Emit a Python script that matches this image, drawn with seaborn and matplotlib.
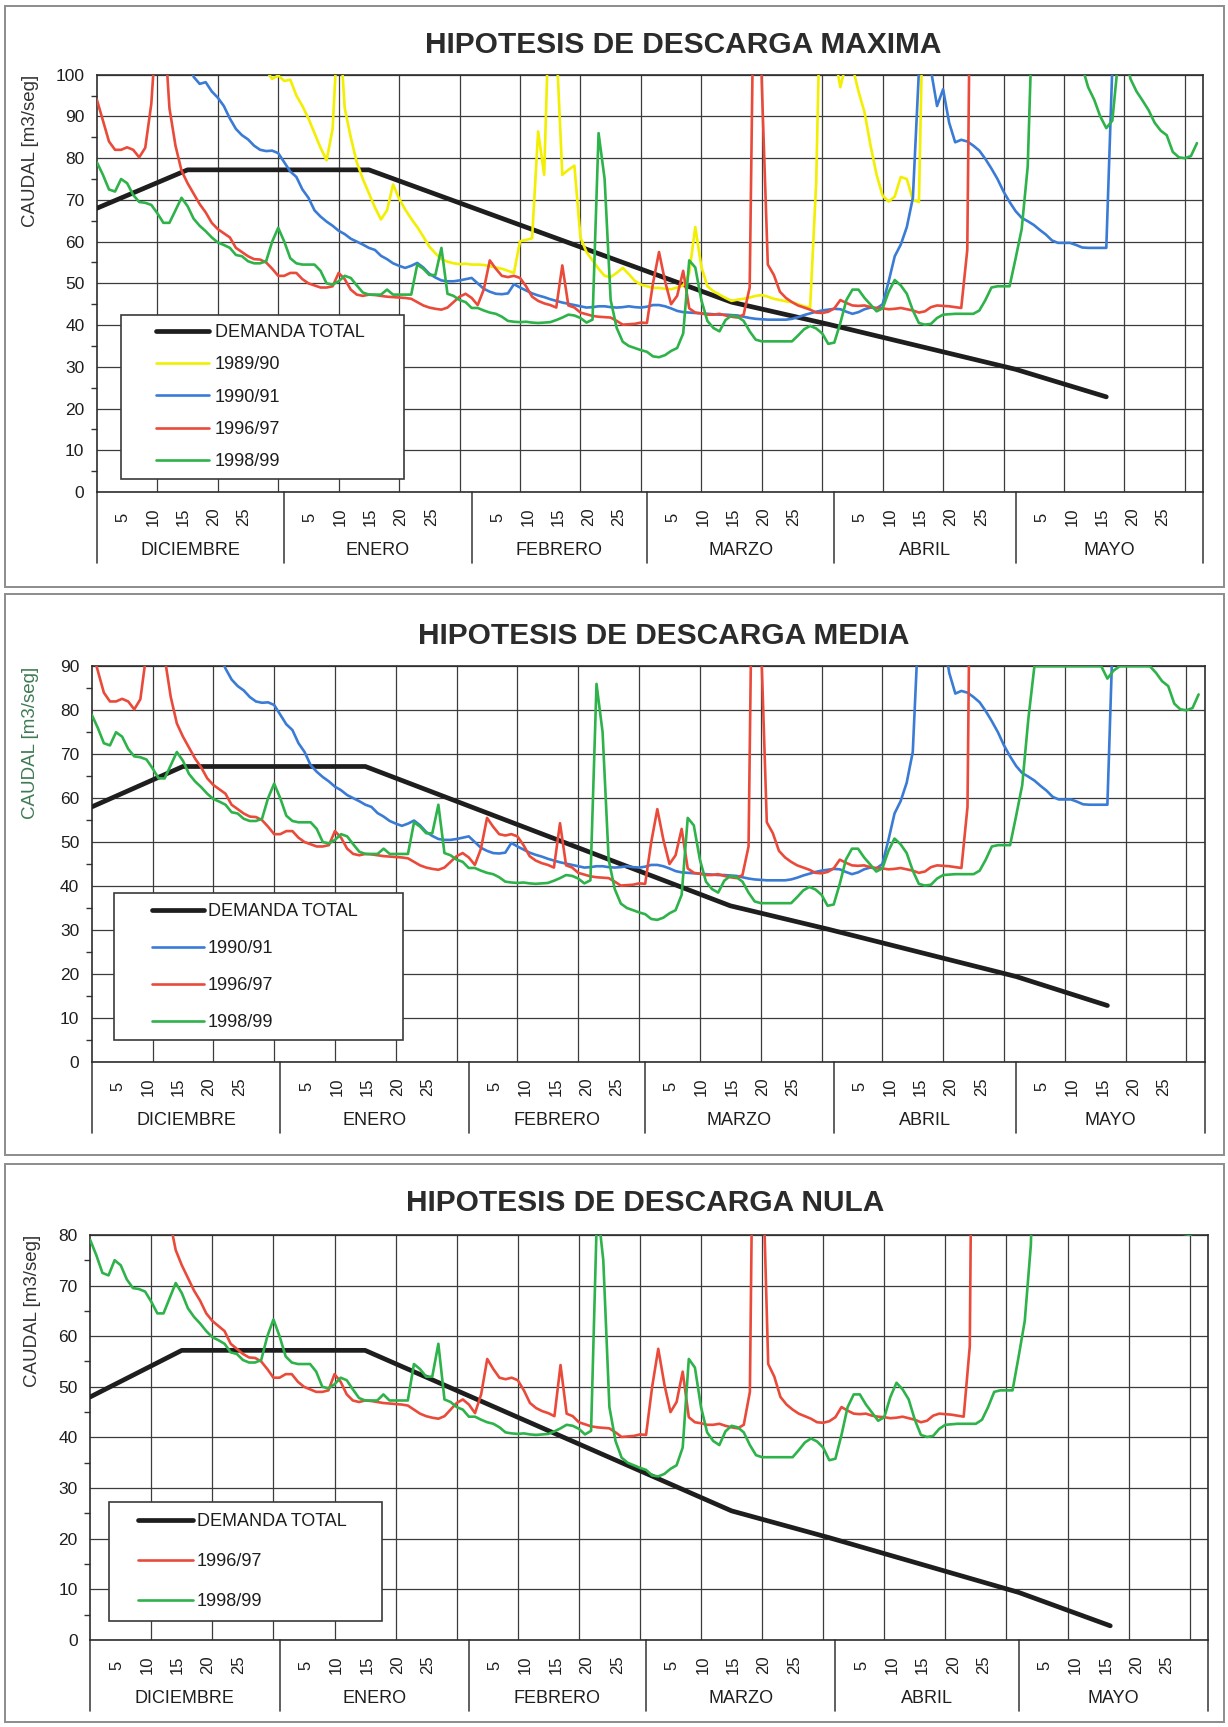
import numpy as np
import matplotlib
matplotlib.use("Agg")
import matplotlib.pyplot as plt
import seaborn as sns
from matplotlib.patches import Rectangle
from matplotlib.lines import Line2D
from matplotlib.legend_handler import HandlerLine2D
from matplotlib import transforms as mtransforms
from matplotlib.ticker import MultipleLocator

nan = np.nan

# ---------------------------------------------------------------------------
# Daily flow (m3/s) from 1 December to 31 May, one value per day (183 days)
# ---------------------------------------------------------------------------
q_1989_90 = ([nan] * 28 + [101, 99,
    99.8, 98.5, 98.8, 95, 92.5, 89.5, 86, 82.5, 79.5, 87,
    115, 92, 85, 79, 75, 71.6, 68.2, 65.3, 67.5, 73.7,
    70.3, 67.7, 65.5, 63.5, 61.2, 58.8, 57.2, 55.8, 55.2, 54.8,
    54.6, 54.7, 54.5, 54.5, 54.4, 54.1, 53.8, 53.5, 53, 52.5,
    60.1, 60.4, 60.8, 86.4, 76, 125, 108, 76, 77.2, 78.2,
    61, 57.5, 55.5, 53.5, 51.8, 51.5, 52.5, 53.7, 52.2, 50.6,
    49.7, 49.3, 48.9, 48.9, 48.7, 48.6, 49, 49.5, 52.5, 63.5,
    54, 49.3, 48.1, 47.3, 46.5, 45.8, 46.1, 46.3, 46.6, 47,
    47.2, 46.8, 46.3, 46, 45.7, 45.5, 45, 44.5, 44.2, 74,
    140, 120, 105, 97, 103, 102, 96, 91, 83, 76,
    71, 69.6, 70.8, 75.5, 75, 70, 69.5, 140] + [nan] * 45)

q_1990_91 = ([nan] * 15 + [105, 99.5, 97.8, 98.2, 96,
    94.5, 92.5, 89.5, 87, 85.5, 84.5, 83, 82, 81.7, 81.8,
    81.2, 79, 76.8, 75.5, 72.5, 70.5, 67.5, 66, 64.8, 63.8,
    62.6, 61.8, 60.7, 60, 59.3, 58.5, 58, 56.6, 55.8, 54.8,
    54.2, 53.7, 54.2, 54.9, 53.8, 52.3, 51.4, 50.7, 50.5, 50.5,
    50.7, 51, 51.3, 50, 48.7, 48, 47.5, 47.4, 47.6, 49.8,
    49, 48.3, 47.6, 47.1, 46.7, 46.2, 45.8, 45.4, 45.1, 44.8,
    44.5, 44.2, 44.3, 44.5, 44.5, 44.3, 44.2, 44.3, 44.5, 44.3,
    44.2, 44.4, 44.8, 44.8, 44.5, 44, 43.4, 43.1, 43, 42.9,
    42.8, 42.7, 42.6, 42.5, 42.5, 42.4, 42.3, 42, 41.7, 41.5,
    41.4, 41.3, 41.3, 41.3, 41.3, 41.5, 41.9, 42.4, 42.8, 43.2,
    43.5, 43.7, 43.9, 43.8, 43.2, 42.7, 43.1, 43.8, 44.2, 44,
    45, 50.5, 56.5, 59.3, 63.5, 70.5, 101, 118, 101, 92.5,
    96.5, 88.5, 83.8, 84.4, 84, 83, 81.8, 79.8, 77.5, 75,
    72, 69.5, 67.3, 65.7, 64.9, 64, 62.8, 61.7, 60.3, 59.7,
    59.7, 59.7, 59.2, 58.6, 58.5, 58.5, 58.5, 58.5, 102, 140] + [nan] * 13)

q_1996_97 = ([94, 89, 84, 82, 82, 82.6, 82, 80.2, 82.5, 93,
    115, 115, 92, 83, 77, 74, 71.5, 69, 67, 64.5,
    63, 62, 61, 58.5, 57.5, 56.5, 55.8, 55.7, 55, 53.5,
    51.8, 51.8, 52.5, 52.5, 51, 50, 49.5, 49, 49, 49.3,
    52.5, 51, 48.5, 47.3, 47, 47.3, 47.2, 47, 46.8, 46.7,
    46.6, 46.5, 46.3, 45.5, 44.7, 44.2, 43.9, 43.7, 44.2, 45.5,
    46.8, 47.5, 46.5, 44.8, 48.5, 55.5, 53.5, 51.8, 51.5, 51.8,
    51.3, 49.3, 46.8, 45.8, 45.2, 44.8, 44.2, 54.3, 44.7, 44.2,
    43, 42.6, 42.2, 42, 41.9, 41.8, 41, 40.1, 40.2, 40.3,
    40.6, 40.5, 50, 57.5, 50.5, 45, 47, 53, 44, 43,
    42.8, 42.5, 42.5, 42.7, 42.3, 42, 41.8, 42.5, 49, 160,
    98, 54.5, 52, 48, 46.5, 45.5, 44.7, 44.2, 43.7, 43,
    42.9, 43.2, 44, 46, 45.3, 44.7, 44.6, 44.7, 44.3, 44.1,
    44, 43.8, 43.9, 44.1, 43.8, 43.5, 43, 43.3, 44.3, 44.7,
    44.6, 44.5, 44.3, 44.1, 58, 200] + [nan] * 37)

q_1998_99 = [79, 76, 72.5, 72, 75, 74, 71.2, 69.5, 69.3, 68.8,
    66.8, 64.5, 64.5, 67.5, 70.5, 68.5, 65.5, 63.8, 62.5, 61,
    59.8, 59.2, 58.5, 56.8, 56.5, 55.3, 54.8, 54.8, 55.3, 60,
    63.3, 60, 56, 54.8, 54.5, 54.5, 54.5, 53, 50, 49.7,
    50.5, 51.8, 51.3, 49.5, 47.8, 47.3, 47.3, 47.3, 48.5, 47.3,
    47.3, 47.3, 47.3, 54.5, 53.5, 52, 52, 58.5, 47.5, 47,
    46, 45.5, 44.1, 44.1, 43.5, 43, 42.7, 42, 41, 40.8,
    40.7, 40.8, 40.6, 40.5, 40.6, 40.7, 41.2, 41.8, 42.5, 42.3,
    41.7, 40.6, 41.3, 86, 75, 46, 39.3, 36, 35, 34.5,
    34, 33.6, 32.5, 32.3, 32.8, 33.8, 34.5, 38, 55.5, 53.8,
    46, 41, 39.3, 38.5, 41.2, 42.3, 42, 41, 38.5, 36.5,
    36.1, 36.1, 36.1, 36.1, 36.1, 36.1, 37.5, 39, 39.8, 39.2,
    38, 35.5, 35.8, 40.5, 46, 48.5, 48.5, 46.5, 44.9, 43.3,
    44, 48, 50.8, 49.5, 47.5, 43.5, 40.5, 40.1, 40.3, 41.7,
    42.5, 42.6, 42.7, 42.7, 42.7, 42.7, 43.5, 46, 49, 49.3,
    49.3, 49.3, 56, 63, 78, 125, 112, 118, 120, 118,
    115, 110, 106, 102, 97, 94, 90, 87.2, 89, 104,
    106, 99, 96, 93.8, 91.5, 88.5, 86.6, 85.5, 81.5, 80.2,
    80, 80.5, 83.6]

flows = {"1989/90": q_1989_90, "1990/91": q_1990_91,
         "1996/97": q_1996_97, "1998/99": q_1998_99}
days = np.arange(183)

# Total demand without discharge (breakpoints, day index and m3/s)
demand_day = [0, 15, 45, 105, 121, 152, 167]
demand_base = [48, 57.2, 57.2, 25.5, 20.2, 9.4, 2.8]

# Three discharge hypotheses
panel_titles = ["HIPOTESIS DE DESCARGA MAXIMA",
                "HIPOTESIS DE DESCARGA MEDIA",
                "HIPOTESIS DE DESCARGA NULA"]
panel_discharge = [20, 10, 0]
panel_ymax = [100, 90, 80]
panel_years = [["1989/90", "1990/91", "1996/97", "1998/99"],
               ["1990/91", "1996/97", "1998/99"],
               ["1996/97", "1998/99"]]
# series drawn held at the top of the scale when they exceed it
panel_capped = [[], ["1998/99"], []]

month_names = ["DICIEMBRE", "ENERO", "FEBRERO", "MARZO", "ABRIL", "MAYO"]
month_bounds = [0, 31, 62, 91, 122, 152, 183]
day_ticks = [5, 10, 15, 20, 25]

year_colors = {"1989/90": "#f2ef00", "1990/91": "#3a7bd5",
               "1996/97": "#ea4a3a", "1998/99": "#2eb24a"}

# ---------------------------------------------------------------------------
sns.set_style("white")
plt.rcParams["font.family"] = ["Liberation Sans", "DejaVu Sans"]

W, H = 1228, 1727
fig = plt.figure(figsize=(W / 100, H / 100), dpi=100)


def fx(px):
    return px / W


def fy(py):
    return 1 - py / H


# layout in pixels
axes_px = [(96.9, 74.7, 1203.0, 492.0),
           (91.7, 666.3, 1204.7, 1061.8),
           (90.2, 1234.9, 1208.0, 1640.0)]
box_px = [(5, 6, 1224, 587), (5, 593.6, 1224, 1155), (5, 1163.6, 1224, 1722)]
title_px = [(683, 53), (663.5, 644.5), (645.5, 1210.6)]
ylabel_x = [-0.052, -0.047, -0.044]
ylabel_color = ["#333333", "#3f7a55", "#333333"]
legend_px = [(120.6, 315.3, 404.0, 477.8),
             (113.5, 893.5, 403.0, 1042.5),
             (108.7, 1501.8, 381.6, 1619.3)]
legend_opts = [dict(borderpad=0.50, labelspacing=0.84, handlelength=4.41, handletextpad=0.30, xpad=1.46),
               dict(borderpad=0.52, labelspacing=1.11, handlelength=4.47, handletextpad=0.22, xpad=1.61),
               dict(borderpad=0.64, labelspacing=1.26, handlelength=4.04, handletextpad=0.20, xpad=0.98)]

for p in range(3):
    x0, y0, x1, y1 = axes_px[p]
    axw, axh = x1 - x0, y1 - y0
    ax = fig.add_axes([fx(x0), fy(y1), axw / W, axh / H])

    # outer panel frame
    bx0, by0, bx1, by1 = box_px[p]
    fig.add_artist(Rectangle((fx(bx0), fy(by1)), (bx1 - bx0) / W, (by1 - by0) / H,
                             transform=fig.transFigure, fill=False,
                             edgecolor="#8c8c8c", linewidth=1.4))
    tx, ty = title_px[p]
    fig.text(fx(tx), fy(ty), panel_titles[p], ha="center", va="baseline",
             fontsize=21.5, fontweight="bold", color="#2b2b2b")

    handles, labels = [], []
    demand = np.array(demand_base) + panel_discharge[p]
    sns.lineplot(x=demand_day, y=demand, ax=ax, color="#1e1e1e", linewidth=3.4,
                 estimator=None, errorbar=None, legend=False, zorder=3)
    handles.append(ax.lines[-1])
    labels.append("DEMANDA TOTAL")
    for yr in panel_years[p]:
        q = np.array(flows[yr], dtype=float)
        if yr in panel_capped[p]:
            q = np.minimum(q, panel_ymax[p])
        sns.lineplot(x=days, y=q, ax=ax, color=year_colors[yr], linewidth=1.9,
                     estimator=None, errorbar=None, legend=False, zorder=4)
        handles.append(ax.lines[-1])
        labels.append(yr)

    ax.set_xlim(0, 183)
    ax.set_ylim(0, panel_ymax[p])
    ax.set_xticks(np.arange(10, 181, 10))
    ax.yaxis.set_major_locator(MultipleLocator(10))
    ax.yaxis.set_minor_locator(MultipleLocator(5))
    ax.grid(True, which="major", color="#3c3c3c", linewidth=0.9)
    ax.set_axisbelow(True)
    ax.tick_params(axis="x", length=0, labelbottom=False)
    ax.tick_params(axis="y", which="major", direction="out", length=6, width=1,
                   labelsize=12.5, labelcolor="#1e1e1e", pad=3, color="#333333")
    ax.tick_params(axis="y", which="minor", direction="out", length=4, width=1,
                   color="#333333", left=True)
    for s in ax.spines.values():
        s.set_color("#2e2e2e")
        s.set_linewidth(1.2)
    ax.set_xlabel("")
    ax.set_ylabel("CAUDAL [m3/seg]", loc="top", fontsize=13.5, color=ylabel_color[p])
    ax.yaxis.set_label_coords(ylabel_x[p], 1.0)

    # legend box
    lx0, ly0, lx1, ly1 = legend_px[p]
    opt = legend_opts[p]
    leg = ax.legend(handles, labels, loc="upper left",
                    bbox_to_anchor=((lx0 - x0) / axw, (y1 - ly1) / axh,
                                    (lx1 - lx0) / axw, (ly1 - ly0) / axh),
                    mode="expand", borderaxespad=0, fontsize=13, frameon=True,
                    fancybox=False, edgecolor="#3a3a3a", framealpha=1,
                    borderpad=opt["borderpad"], labelspacing=opt["labelspacing"],
                    handlelength=opt["handlelength"], handletextpad=opt["handletextpad"],
                    handler_map={Line2D: HandlerLine2D(xpad=opt["xpad"])})
    leg.get_frame().set_linewidth(1.2)
    for t in leg.get_texts():
        t.set_color("#1e1e1e")

    # category axis: day numbers, month names, month separators
    blended = mtransforms.blended_transform_factory(ax.transData, ax.transAxes)
    tday = mtransforms.offset_copy(blended, fig=fig, y=-25, units="dots")
    tmon = mtransforms.offset_copy(blended, fig=fig, y=-58.5, units="dots")
    for m in range(6):
        a, b = month_bounds[m], month_bounds[m + 1]
        for d in day_ticks:
            ax.text(a + d - 1 + 0.3, 0, str(d), transform=tday, rotation=90,
                    ha="center", va="center", fontsize=12, color="#1e1e1e")
        ax.text((a + b) / 2, 0, month_names[m], transform=tmon, ha="center",
                va="center", fontsize=13, color="#1e1e1e")
    for bnd in month_bounds:
        ax.plot([bnd, bnd], [0, -71 / axh], transform=blended, color="#444444",
                linewidth=1.2, clip_on=False)

fig.savefig("out.png", dpi=100)
